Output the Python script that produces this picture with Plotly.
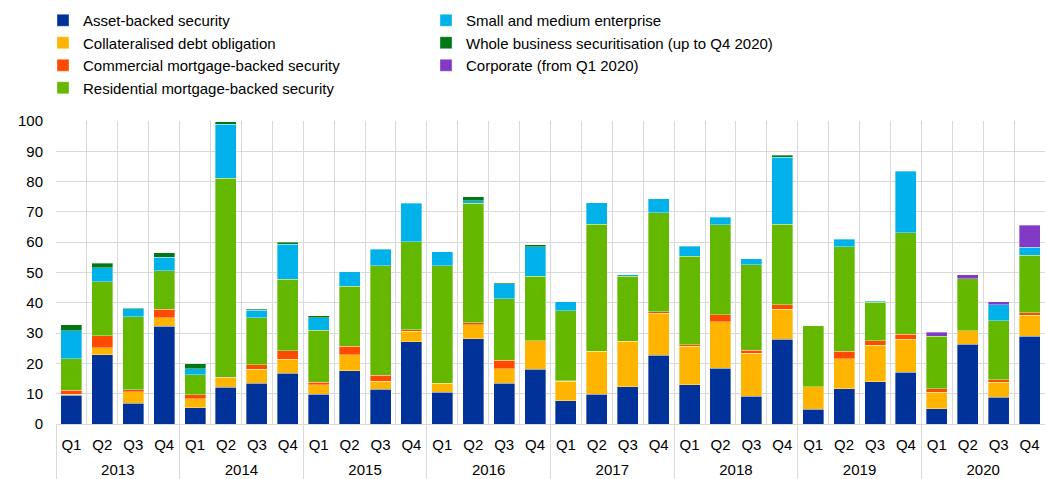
import plotly.graph_objects as go

years = ["2013", "2014", "2015", "2016", "2017", "2018", "2019", "2020"]
quarters = ["Q1", "Q2", "Q3", "Q4"]

# Issuance by product type, one value per quarter (2013 Q1 .. 2020 Q4)
abs_vals = [9.5, 22.9, 6.8, 32.2, 5.3, 12.1, 13.4, 16.7, 9.8, 17.6, 11.5, 27.1,
            10.5, 28.2, 13.5, 18.1, 7.7, 9.9, 12.3, 22.7, 12.9, 18.4, 9.1, 28.0,
            4.8, 11.7, 13.9, 17.1, 5.1, 26.3, 8.8, 28.9]
cdo_vals = [0.4, 2.2, 3.9, 2.9, 3.0, 3.1, 4.6, 4.6, 3.2, 5.3, 2.6, 3.5,
            3.0, 4.6, 4.8, 9.4, 6.4, 14.1, 15.0, 13.9, 12.8, 15.3, 14.2, 9.8,
            7.5, 9.9, 12.1, 10.8, 5.4, 4.5, 5.0, 7.0]
cmbs_vals = [1.3, 4.1, 0.6, 2.7, 1.4, 0.3, 1.5, 2.9, 0.8, 2.8, 2.0, 0.5,
             0.0, 0.6, 2.8, 0.0, 0.2, 0.0, 0.0, 0.5, 0.4, 2.3, 1.1, 1.6,
             0.0, 2.4, 1.5, 1.7, 1.1, 0.0, 0.8, 0.8]
rmbs_vals = [10.4, 17.7, 24.1, 12.8, 6.6, 65.6, 15.5, 23.6, 17.1, 19.8, 36.1, 29.0,
             38.7, 39.5, 20.2, 21.2, 23.1, 42.0, 21.5, 32.6, 29.3, 29.7, 28.2, 26.5,
             20.2, 34.5, 12.7, 33.5, 17.3, 17.1, 19.5, 19.0]
sme_vals = [9.2, 4.6, 2.6, 4.4, 2.0, 17.8, 2.6, 11.5, 4.2, 4.8, 5.5, 12.8,
            4.6, 0.8, 5.0, 9.8, 2.9, 7.1, 0.5, 4.6, 3.2, 2.6, 1.9, 22.1,
            0.0, 2.4, 0.3, 20.3, 0.0, 0.0, 5.3, 2.6]
wbs_vals = [1.9, 1.5, 0.2, 1.5, 1.6, 0.9, 0.2, 0.7, 0.7, 0.0, 0.0, 0.0,
            0.0, 1.3, 0.4, 0.6, 0.0, 0.0, 0.0, 0.0, 0.0, 0.0, 0.0, 0.7,
            0.0, 0.0, 0.0, 0.0, 0.0, 0.0, 0.0, 0.0]
corp_vals = [0.0] * 28 + [1.3, 1.4, 0.9, 7.3]

series = [
    ("Asset-backed security", abs_vals, "#003299", 1),
    ("Collateralised debt obligation", cdo_vals, "#FFB400", 3),
    ("Commercial mortgage-backed security", cmbs_vals, "#FF4B00", 5),
    ("Residential mortgage-backed security", rmbs_vals, "#65B800", 7),
    ("Small and medium enterprise", sme_vals, "#00B1EA", 2),
    ("Whole business securitisation (up to Q4 2020)", wbs_vals, "#007816", 4),
    ("Corporate (from Q1 2020)", corp_vals, "#8139C6", 6),
]

nq = len(quarters)
n = len(years) * nq
pos = list(range(n))                                   # one slot per quarter
quarter_text = [quarters[i % nq] for i in pos]
cell_edges = [i - 0.5 for i in range(n + 1)]           # gridlines between quarters
year_centres = [k * nq + (nq - 1) / 2 for k in range(len(years))]
year_edges = [k * nq - 0.5 for k in range(len(years) + 1)]
x_range = [-0.5, n - 0.5]

font_family = "Arial, Liberation Sans, sans-serif"
grid = "#d9d9d9"
clear = "rgba(0,0,0,0)"

fig = go.Figure()
for name, vals, color, rank in series:
    fig.add_trace(go.Bar(
        name=name,
        x=pos,
        y=[v if v > 0 else None for v in vals],
        marker=dict(color=color, line=dict(color="rgba(255,255,255,0.7)", width=0.5)),
        legendrank=rank,
    ))

# carriers for the year-label axis and the year-divider axis (no visible marks)
for ax_name in ("x2", "x3"):
    fig.add_trace(go.Scatter(
        x=year_centres, y=[0] * len(years), xaxis=ax_name, yaxis="y",
        mode="markers", marker=dict(opacity=0, size=1),
        showlegend=False, hoverinfo="skip",
    ))

common_x = dict(range=x_range, showgrid=False, zeroline=False, showline=False,
                automargin=False, fixedrange=True, tickfont=dict(size=15))

fig.update_layout(
    barmode="stack",
    bargap=0.32,
    width=1045,
    height=479,
    margin=dict(l=56, r=0, t=121, b=55),
    plot_bgcolor="white",
    paper_bgcolor="white",
    font=dict(family=font_family, size=15, color="#000000"),
    legend=dict(
        orientation="h",
        x=43 / 1045, xref="container",
        y=1 - 4 / 479, yref="container",
        xanchor="left", yanchor="top",
        entrywidth=338,
        font=dict(size=15),
        traceorder="normal",
    ),
    # quarter labels and the light grid between quarters
    xaxis=dict(
        **common_x,
        tickmode="array",
        tickvals=pos,
        ticktext=quarter_text,
        ticks="outside",
        ticklen=7,
        tickcolor=clear,
        minor=dict(tickmode="array", tickvals=cell_edges, showgrid=True,
                   gridcolor=grid, gridwidth=1, ticks=""),
    ),
    # year labels
    xaxis2=dict(
        **common_x,
        overlaying="x",
        anchor="y",
        side="bottom",
        tickmode="array",
        tickvals=year_centres,
        ticktext=years,
        ticks="outside",
        ticklen=32,
        tickcolor=clear,
    ),
    # year dividers hanging below the axis
    xaxis3=dict(
        **common_x,
        overlaying="x",
        anchor="y",
        side="bottom",
        tickmode="array",
        tickvals=year_edges,
        showticklabels=False,
        ticks="outside",
        ticklen=56,
        tickcolor=grid,
        tickwidth=1,
    ),
    yaxis=dict(
        range=[0, 100],
        dtick=10,
        showgrid=True,
        gridcolor=grid,
        gridwidth=1,
        zeroline=True,
        zerolinecolor=grid,
        zerolinewidth=1,
        ticks="",
        tickfont=dict(size=15),
        ticklabelstandoff=12,
        fixedrange=True,
        automargin=False,
    ),
)

fig.write_html("out.html")
